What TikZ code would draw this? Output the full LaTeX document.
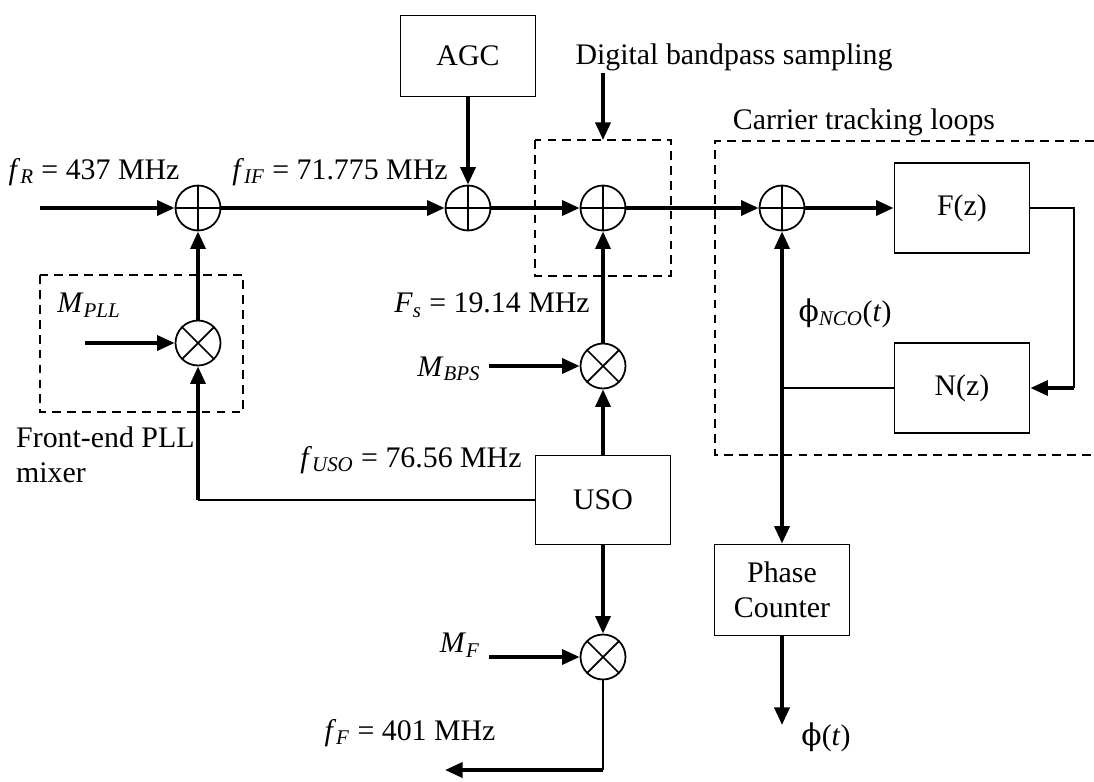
\documentclass[tikz,border=0pt]{standalone}
\usepackage{fontspec}
\setmainfont{Liberation Serif}
\newfontfamily\phifont{DejaVu Serif}
\usepackage{tikz}
\usetikzlibrary{arrows.meta,calc}

\newcommand{\itx}[1]{\textit{#1}}
\newcommand{\lsub}[1]{\textsubscript{\textit{#1}}}
\newcommand{\vphi}{{\phifont ϕ}}

\begin{document}
\begin{tikzpicture}[x=0.02cm,y=-0.02cm,
    font=\fontsize{17}{20}\selectfont,
    thinline/.style={line width=1pt},
    sig/.style={line width=2.1pt,-{Triangle[length=10pt,width=8.5pt]}},
    sigboth/.style={line width=2.1pt,{Triangle[length=10pt,width=8.5pt]}-{Triangle[length=10pt,width=8.5pt]}},
    blk/.style={draw,line width=1pt,minimum width=2.7cm,minimum height=1.8cm,align=center},
    grp/.style={draw,line width=1.1pt,dash pattern=on 5pt off 3.5pt},
    sumnode/.style={circle,draw,line width=1pt,minimum size=0.9cm,inner sep=0pt,
        path picture={\draw[line width=1pt] (path picture bounding box.north) -- (path picture bounding box.south)
            (path picture bounding box.west) -- (path picture bounding box.east);}},
    mixnode/.style={circle,draw,line width=1pt,minimum size=0.9cm,inner sep=0pt,
        path picture={\draw[line width=1pt] (path picture bounding box.north west) -- (path picture bounding box.south east)
            (path picture bounding box.north east) -- (path picture bounding box.south west);}}]
\useasboundingbox (0,0) rectangle (1094,781);

% dashed groups
\draw[grp] (40,275) rectangle (243,412);
\draw[grp] (535,140) rectangle (671,276);
\draw[grp] (1094,141) -- (715,141) -- (715,455) -- (1094,455);

% blocks
\node[blk,minimum height=1.62cm] (agc) at (468,56) {AGC};
\node[blk] (fz) at (962,208) {F(z)};
\node[blk] (nz) at (962,388) {N(z)};
\node[blk,minimum height=1.78cm] (uso) at (603,500) {USO};
\node[blk,minimum height=1.82cm] (pc) at (782,590) {Phase\\Counter};

% summers and mixers
\node[sumnode] (sumA) at (198,208) {};
\node[sumnode] (sumB) at (468,208) {};
\node[sumnode] (sumC) at (603,208) {};
\node[sumnode] (sumD) at (782,208) {};
\node[mixnode] (mixA) at (198,343) {};
\node[mixnode] (mixB) at (603,366) {};
\node[mixnode] (mixC) at (603,657) {};

% free ends
\coordinate (inR) at (40,208);
\coordinate (inPLL) at (85,343);
\coordinate (inBPS) at (489,366);
\coordinate (inMF) at (489,657);
\coordinate (inDBS) at (603,73);
\coordinate (kUso) at (198,500);
\coordinate (kF) at (603,770);
\coordinate (outF) at (445,770);
\coordinate (kFz) at (1074,208);
\coordinate (kNz) at (1074,388);
\coordinate (kJ) at (782,388);
\coordinate (outPhi) at (782,725);

% labels
\node (lblR) at (94,172) {\itx{f}\lsub{R} = 437 MHz};
\node (lblIF) at (340,172) {\itx{f}\lsub{IF} = 71.775 MHz};
\node (lblPLL) at (89,305) {\itx{M}\lsub{PLL}};
\node[align=left,anchor=west] (lblFront) at (10,455) {Front-end PLL\\mixer};
\node (lblFs) at (492,305) {\itx{F}\lsub{s} = 19.14 MHz};
\node (lblBPS) at (449,369) {\itx{M}\lsub{BPS}};
\node (lblUSO) at (411,460) {\itx{f}\lsub{USO} = 76.56 MHz};
\node (lblMF) at (460,645) {\itx{M}\lsub{F}};
\node (lblF) at (410,733) {\itx{f}\lsub{F} = 401 MHz};
\node (lblDBS) at (734,57) {Digital bandpass sampling};
\node (lblCTL) at (864,122) {Carrier tracking loops};
\node (lblNCO) at (845,313) {\vphi\textsubscript{\textit{NCO}}(\itx{t})};
\node (lblPhi) at (826,737) {\vphi(\itx{t})};

% signal path
\draw[sig] (inR) -- (sumA);
\draw[sig] (sumA) -- (sumB);
\draw[sig] (sumB) -- (sumC);
\draw[sig] (sumC) -- (sumD);
\draw[sig] (sumD) -- (fz);
\draw[sig] (agc) -- (sumB);
\draw[sig] (inDBS) -- (sumC |- 0,140);

% front-end mixer
\draw[sig] (inPLL) -- (mixA);
\draw[sig] (mixA) -- (sumA);
\draw[thinline] (uso.west) -- (kUso);
\draw[sig] (kUso) -- (mixA);

% sampling clock
\draw[sig] (inBPS) -- (mixB);
\draw[sig] (mixB) -- (sumC);
\draw[sig] (uso) -- (mixB);

% downlink
\draw[sig] (uso) -- (mixC);
\draw[sig] (inMF) -- (mixC);
\draw[thinline] (mixC) -- (kF);
\draw[sig] (kF) -- (outF);

% loop
\draw[thinline] (fz.east) -- (kFz) -- (kNz);
\draw[sig] (kNz) -- (nz);
\draw[thinline] (nz.west) -- (kJ);
\draw[sigboth] (sumD) -- (pc);
\draw[sig] (pc) -- (outPhi);
\end{tikzpicture}
\end{document}
